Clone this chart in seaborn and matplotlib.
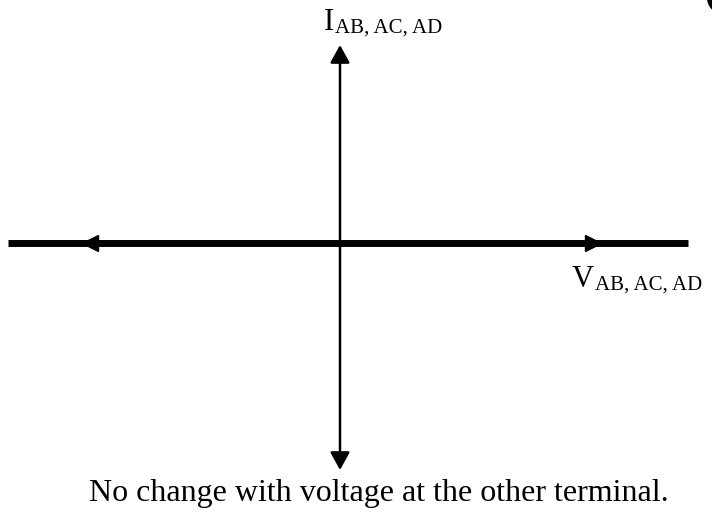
import matplotlib
matplotlib.use("Agg")
import matplotlib.pyplot as plt
import seaborn as sns

sns.set_theme(style="white")
plt.rcParams['font.family'] = ['Liberation Serif', 'DejaVu Serif']

# axes of the I-V sketch (origin at the crossing point)
h_axis_x = [-332, 348]
h_axis_y = [0, 0]
v_axis_bottom = -227
v_axis_top = 198
# arrowhead tips sitting on the horizontal axis
h_tip_left = -258
h_tip_right = 260

i_label = "I"
i_sub = "AB, AC, AD"
v_label = "V"
v_sub = "AB, AC, AD"
caption = "No change with voltage at the other terminal."

fig = plt.figure(figsize=(7.12, 5.12), dpi=100, facecolor="white")
ax = fig.add_axes([0, 0, 1, 1])
ax.set_xlim(-340, 372)
ax.set_ylim(-269, 243)
ax.axis("off")

# horizontal axis (thick, square ends)
sns.lineplot(x=h_axis_x, y=h_axis_y, color="black", linewidth=5, ax=ax)
ax.lines[-1].set_solid_capstyle("butt")
head = 15 / 2
ax.plot([h_tip_left + head], [0], marker="<", markersize=11, color="black")
ax.plot([h_tip_right - head], [0], marker=">", markersize=11, color="black")

# vertical axis (thin, double-headed)
ax.annotate("", xy=(0, v_axis_top), xytext=(0, v_axis_bottom),
            arrowprops=dict(arrowstyle="<|-|>,head_length=0.4,head_width=0.22",
                            mutation_scale=27, color="black", lw=1.8,
                            shrinkA=0, shrinkB=0))

# labels
ax.text(-16, 213, i_label, fontsize=22, ha="left", va="baseline", color="black")
ax.text(-5, 210, i_sub, fontsize=15, ha="left", va="baseline", color="black")
ax.text(232, -44, v_label, fontsize=22, ha="left", va="baseline", color="black")
ax.text(255, -47, v_sub, fontsize=15, ha="left", va="baseline", color="black")
ax.text(39, -258, caption, fontsize=23, ha="center", va="baseline", color="black")

# partial letter cut off at the top-right corner
ax.text(363, 230, "C", fontsize=40, fontweight="bold", ha="left",
        va="baseline", color="black")

fig.savefig("out.png", dpi=100, facecolor="white")
